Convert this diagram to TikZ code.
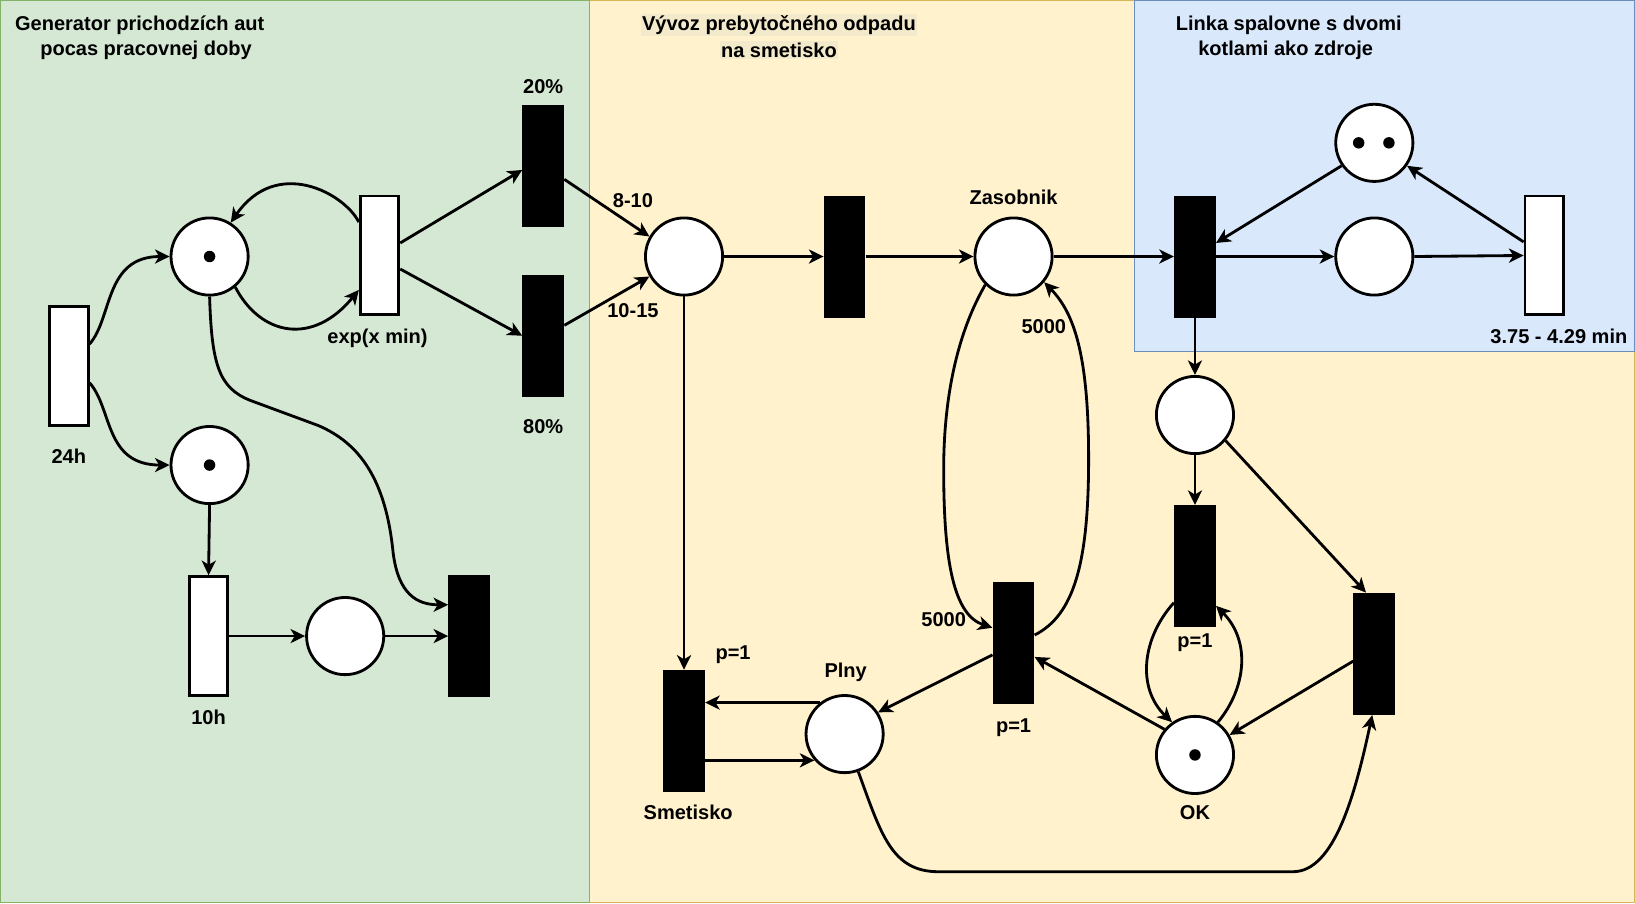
\documentclass[tikz,border=0pt]{standalone}
\usepackage{fontspec}
\setmainfont{Liberation Sans}
\usetikzlibrary{arrows.meta,calc}
\definecolor{gfill}{HTML}{D5E8D4}
\definecolor{gline}{HTML}{82B366}
\definecolor{yfill}{HTML}{FFF2CC}
\definecolor{yline}{HTML}{D6B656}
\definecolor{bfill}{HTML}{DAE8FC}
\definecolor{bline}{HTML}{6C8EBF}
\definecolor{hl}{RGB}{243,233,203}
\tikzset{
 place/.style={circle, draw=black, fill=white, line width=2.7pt, minimum size=74pt, inner sep=0pt},
 wtrans/.style={rectangle, draw=black, fill=white, line width=2.7pt, minimum width=37pt, minimum height=114pt, inner sep=0pt},
 btrans/.style={rectangle, fill=black, minimum width=40pt, minimum height=117pt, inner sep=0pt},
 arc/.style={line width=2.7pt, -{Stealth[length=14pt,width=13.5pt,inset=4pt]}},
 lbl/.style={font=\fontsize{19.2}{24}\selectfont\bfseries, inner sep=0pt},
 token/.style={circle, fill=black, minimum size=11pt, inner sep=0pt},
}
\begin{document}
\begin{tikzpicture}[x=1pt,y=-1pt]
\useasboundingbox (0,0) rectangle (1568,866);
% regions
\draw[fill=yfill, draw=yline, line width=1pt] (565,0.5) rectangle (1567.5,865.5);
\draw[fill=gfill, draw=gline, line width=1pt] (0.5,0.5) rectangle (565,865.5);
\draw[fill=bfill, draw=bline, line width=1pt] (1088,0.5) rectangle (1567.5,337);
% titles
\node[lbl] (g1) at (134,24) {Generator prichodzích aut};
\node[lbl] (g2) at (140,48) {pocas pracovnej doby};
\node[lbl, fill=hl, inner sep=1.5pt] (v1) at (747,24) {Vývoz prebytočného odpadu};
\node[lbl, fill=hl, inner sep=1.5pt] (v2) at (747,48) {na smetisko};
\node[lbl] (k1) at (1236,24) {Linka spalovne s dvomi};
\node[lbl] (k2) at (1233,48) {kotlami ako zdroje};
% nodes
\node[wtrans] (T24) at (66,351) {};
\node[place] (P1) at (201,246) {};
\node[place] (P2) at (201,446) {};
\node[wtrans] (Texp) at (364,245) {};
\node[btrans] (T20) at (521,159) {};
\node[btrans] (T80) at (521,322) {};
\node[wtrans] (T10) at (200,610) {};
\node[place] (P3) at (331,610) {};
\node[btrans] (Tl) at (450,610) {};
\node[place] (Pm) at (656,246) {};
\node[btrans] (Tm) at (810,246) {};
\node[place] (Zas) at (972,246) {};
\node[btrans] (Smet) at (656,701) {};
\node[place] (Plny) at (810,704) {};
\node[btrans] (T5) at (972,617) {};
\node[btrans] (Tb) at (1146,246) {};
\node[place] (Tkot) at (1318,137) {};
\node[place] (Pb) at (1318,246) {};
\node[wtrans] (Tw) at (1481,245) {};
\node[place] (Pc) at (1146,398) {};
\node[btrans] (Tp) at (1146,543) {};
\node[btrans] (Tr) at (1318,627) {};
\node[place] (OK) at (1146,724) {};
% tokens
\node[token] (t1) at (201,246) {};
\node[token] (t2) at (201,446) {};
\node[token] (t3) at (1146,724) {};
\node[token] (t4) at (1303,137) {};
\node[token] (t5) at (1332,137) {};
% labels
\node[lbl] (l24) at (66,438) {24h};
\node[lbl] (l10) at (200,688) {10h};
\node[lbl] (lexp) at (362,324) {exp(x min)};
\node[lbl] (l20) at (521,83) {20\%};
\node[lbl] (l80) at (521,409) {80\%};
\node[lbl] (l810) at (607,192) {8-10};
\node[lbl] (l1015) at (607,298) {10-15};
\node[lbl] (lzas) at (972,189) {Zasobnik};
\node[lbl] (l5a) at (1001,313) {5000};
\node[lbl] (l5b) at (905,594) {5000};
\node[lbl] (lp1) at (703,628) {p=1};
\node[lbl] (lplny) at (811,645) {Plny};
\node[lbl] (lsm) at (660,779) {Smetisko};
\node[lbl] (lp2) at (972,698) {p=1};
\node[lbl] (lp3) at (1146,616) {p=1};
\node[lbl] (lok) at (1146,779) {OK};
\node[lbl] (lmin) at (1495,323) {3.75 - 4.29 min};
% arcs left
\draw[arc] ([yshift=21pt]T24.east) .. controls (108,305) and (100,246) .. (P1.west);
\draw[arc] ([yshift=-16pt]T24.east) .. controls (108,392) and (100,446) .. (P2.west);
\draw[arc] (P1.-50) .. controls (250,322) and (300,332) .. ([yshift=-33pt]Texp.west);
\draw[arc] ([yshift=32pt]Texp.west) .. controls (330,185) and (265,150) .. (P1.58);
\draw[arc] ([yshift=12pt]Texp.east) -- ([yshift=-4pt]T20.west);
\draw[arc] ([yshift=-13pt]Texp.east) -- (T80.west);
\draw[arc] ([yshift=-13pt]T20.east) -- (Pm.150);
\draw[arc] ([yshift=10pt]T80.east) -- (Pm.210);
\draw[arc] (P1.south) .. controls (203,350) and (210,372) .. (240,384) -- (305,408) .. controls (345,425) and (370,460) .. (377,530) .. controls (382,570) and (400,580) .. ([yshift=30pt]Tl.west);
\draw[arc] (P2.south) -- (T10.north);
\draw[arc] (T10.east) -- (P3.west);
\draw[arc] (P3.east) -- (Tl.west);
% arcs middle
\draw[arc] (Pm.east) -- (Tm.west);
\draw[arc] (Tm.east) -- (Zas.west);
\draw[arc] (Pm.south) -- (Smet.north);
\draw[arc] (Plny.128) -- (Plny.128 -| Smet.east);
\draw[arc] (Plny.221 -| Smet.east) -- (Plny.221);
\draw[arc] (Zas.225) .. controls (912,330) and (905,400) .. (905,450) .. controls (905,540) and (915,590) .. ([yshift=15pt]T5.west);
\draw[arc] ([yshift=8pt]T5.east) .. controls (1030,590) and (1044,540) .. (1044,440) .. controls (1044,340) and (1030,300) .. (Zas.-40);
\draw[arc] ([yshift=-11pt]T5.west) -- (Plny.33);
\draw[arc] (OK.140) -- ([yshift=-13pt]T5.east);
% arcs right
\draw[arc] (Zas.east) -- (Tb.west);
\draw[arc] (Tkot.215) -- ([yshift=13pt]Tb.east);
\draw[arc] (Tb.east) -- (Pb.west);
\draw[arc] (Pb.east) -- (Tw.west);
\draw[arc] ([yshift=13pt]Tw.west) -- (Tkot.-35);
\draw[arc] (Tb.south) -- (Pc.north);
\draw[arc] (Pc.south) -- (Tp.north);
\draw[arc] (Pc.-40) -- ([xshift=-8pt]Tr.north);
\draw[arc] ([yshift=-7pt]Tr.west) -- (OK.30);
\draw[arc] ([yshift=-35pt]Tp.west) .. controls (1095,612) and (1090,660) .. (OK.125);
\draw[arc] (OK.55) .. controls (1195,660) and (1200,615) .. ([yshift=-38pt]Tp.east);
\draw[arc] (Plny.-70) .. controls (845,800) and (855,836) .. (900,836) -- (1240,836) .. controls (1280,836) and (1300,760) .. ([xshift=-2pt]Tr.south);
\end{tikzpicture}
\end{document}
